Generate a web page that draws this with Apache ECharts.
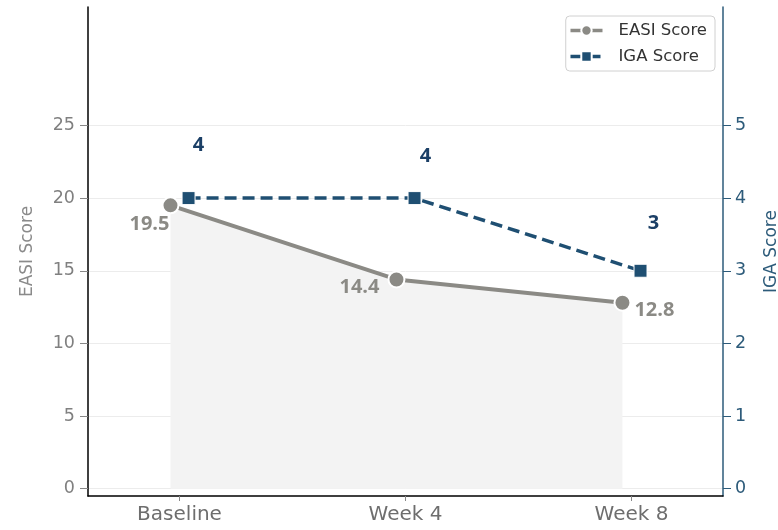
<!DOCTYPE html>
<html>
<head>
<meta charset="utf-8">
<script src="https://cdn.jsdelivr.net/npm/echarts@6/dist/echarts.min.js"></script>
<style>html,body{margin:0;padding:0;background:#fff}#c{width:778px;height:530px}</style>
</head>
<body>
<div id="c"></div>
<script>
var categories = ['Baseline', 'Week 4', 'Week 8'];
var easiScores = [19.5, 14.4, 12.8];
var igaScores = [4, 4, 3];
var easiTicks = [0, 5, 10, 15, 20, 25];
var igaTicks = [0, 1, 2, 3, 4, 5];

var easiOffsetX = -0.04, igaOffsetX = 0.04;
var easiLabelOffsets = [[-21, 19], [-37, 8], [32, 8]];
var igaLabelOffsets = [[10, -53], [11, -42], [13, -47]];

var GRAY = '#8b8a85', BLUE = '#1f4f72', NAVY = '#1b3f66', AXB = '#2d5b7a';
var FONT = 'DejaVu Sans';
var LFONT = 'Open Sans';

var easiData = easiScores.map(function (v, i) {
  return { value: [i + easiOffsetX, v], label: { offset: easiLabelOffsets[i] } };
});
var igaData = igaScores.map(function (v, i) {
  return { value: [i + igaOffsetX, v], label: { offset: igaLabelOffsets[i] } };
});

var chart = echarts.init(document.getElementById('c'), null, { renderer: 'canvas' });
chart.setOption({
  animation: false,
  textStyle: { fontFamily: FONT },
  grid: { left: 88, right: 55, top: 7, bottom: 34, containLabel: false, outerBoundsMode: 'none' },
  legend: {
    orient: 'vertical', right: 63, top: 16,
    backgroundColor: '#fff', borderColor: '#d0d0d0', borderWidth: 1, borderRadius: 4,
    padding: [6, 8, 6, 3], itemGap: 9, itemWidth: 32, itemHeight: 13,
    lineStyle: { width: 3.5 },
    textStyle: { fontSize: 16.5, color: '#333', fontFamily: FONT, padding: [0, 0, 0, 11] },
    data: ['EASI Score', 'IGA Score']
  },
  xAxis: {
    type: 'value', min: -0.405, max: 2.405,
    axisLine: { show: true, onZero: false, lineStyle: { color: '#000', width: 1.5 } },
    axisTick: { show: true, customValues: [0, 1, 2], length: 5, lineStyle: { color: '#888' } },
    axisLabel: {
      customValues: [0, 1, 2], color: '#6e6e6e', fontSize: 20, margin: 9,
      formatter: function (v) { return categories[Math.round(v)]; }
    },
    splitLine: { show: false }
  },
  yAxis: [{
    type: 'value', min: -0.5, max: 33.15, position: 'left',
    name: 'EASI Score', nameLocation: 'middle', nameGap: 52,
    nameTextStyle: { color: '#8a8a8a', fontSize: 17, fontFamily: FONT },
    axisLine: { show: true, onZero: false, lineStyle: { color: '#000', width: 1.5 } },
    axisTick: { show: true, customValues: easiTicks, length: 8, lineStyle: { color: '#888' } },
    axisLabel: { customValues: easiTicks, color: '#808080', fontSize: 17.5, margin: 13 },
    splitLine: { show: true, lineStyle: { color: '#ececec', width: 1 } }
  }, {
    type: 'value', min: -0.1, max: 6.63, position: 'right',
    name: 'IGA Score', nameLocation: 'middle', nameGap: 40,
    nameTextStyle: { color: AXB, fontSize: 17, fontFamily: FONT },
    axisLine: { show: true, onZero: false, lineStyle: { color: AXB, width: 1.5 } },
    axisTick: { show: true, customValues: igaTicks, length: 8, lineStyle: { color: AXB } },
    axisLabel: { customValues: igaTicks, color: AXB, fontSize: 17.5, margin: 12 },
    splitLine: { show: false }
  }],
  series: [{
    name: 'EASI Score', type: 'line', yAxisIndex: 0, data: easiData,
    symbol: 'circle', symbolSize: 16, z: 3,
    lineStyle: { color: GRAY, width: 4 },
    itemStyle: { color: GRAY, borderColor: '#fff', borderWidth: 2 },
    areaStyle: { color: '#f3f3f3', opacity: 1, origin: 'auto' },
    label: { show: true, position: 'inside', color: GRAY, fontSize: 20, fontWeight: 'bold', fontFamily: LFONT,
      formatter: function (p) { return p.value[1].toFixed(1); } }
  }, {
    name: 'IGA Score', type: 'line', yAxisIndex: 1, data: igaData,
    symbol: 'rect', symbolSize: 13, z: 4,
    lineStyle: { color: BLUE, width: 3.5, type: [12, 6] },
    itemStyle: { color: BLUE, borderColor: '#fff', borderWidth: 1 },
    label: { show: true, position: 'inside', color: NAVY, fontSize: 20, fontWeight: 'bold', fontFamily: LFONT,
      formatter: function (p) { return String(p.value[1]); } }
  }]
});
</script>
</body>
</html>
